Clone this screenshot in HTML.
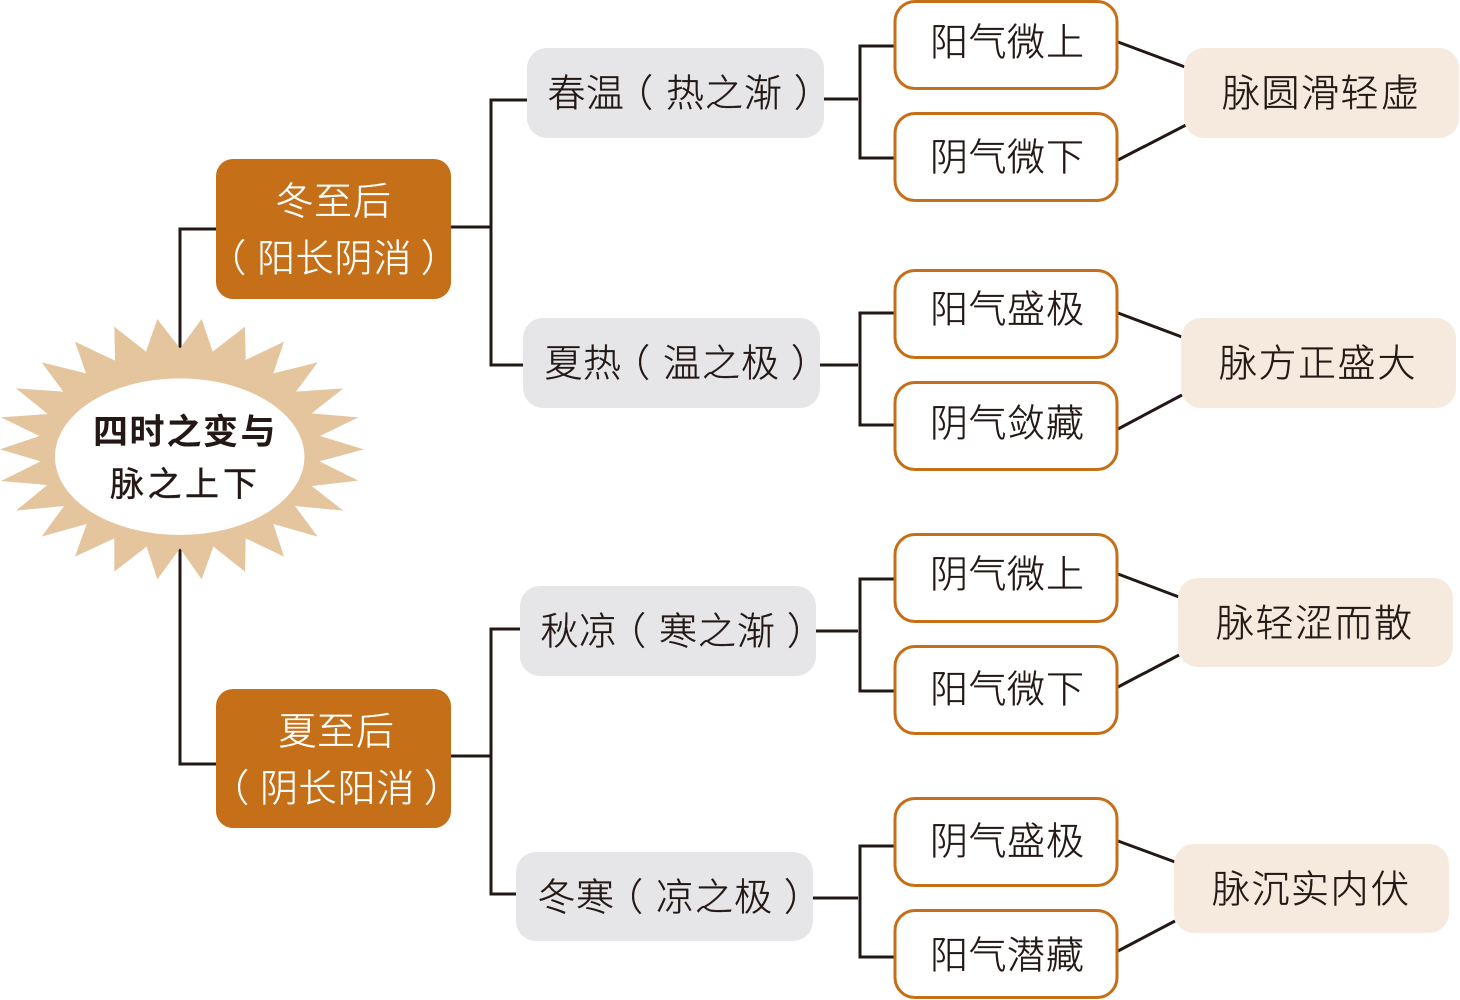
<!DOCTYPE html>
<html lang="zh">
<head>
<meta charset="utf-8">
<title>四时之变与脉之上下</title>
<style>
html,body{margin:0;padding:0;background:#fff;width:1460px;height:1000px;overflow:hidden}
svg{display:block}
text{font-family:"Liberation Sans","Noto Sans CJK SC",sans-serif;font-size:38px;fill:#231815;stroke:#231815;stroke-width:.35px;font-weight:300}
text.w{fill:#fff;stroke:#fff}
text.c{font-size:35px;font-weight:700;stroke-width:0}
text.c2{font-size:34px;font-weight:400;stroke-width:.4px}
</style>
</head>
<body>
<svg width="1460" height="1000" viewBox="0 0 1460 1000" xmlns="http://www.w3.org/2000/svg">
<g fill="none" stroke="#231815" stroke-width="3">
<path d="M180,350V229H218M180,548V764H218"/>
<path d="M450,227H491M527,100H491V365H523M450,756H491M520,629H491V894H516"/>
<path d="M824,99H858M895,46H860V158H895"/>
<path d="M820,365H858M895,313H860V425H895"/>
<path d="M816,631H858M895,579H860V691H895"/>
<path d="M813,898H858M895,846H860V957H895"/>
<path d="M1118,42L1185,67M1118,160L1186,125M1118,313L1182,337M1118,429L1182,395M1118,574L1179,597M1118,687L1179,655M1118,841L1175,862M1118,951L1175,921"/>
</g>
<g transform="translate(0,300) scale(0.33333)">
<polygon fill="#e5c59d" points="605,57 638,155 735,80 737,180 852,125 820,220 953,187 888,275 1030,265 935,340 1075,352 960,408 1092,448 958,484 1075,542 935,558 1030,632 885,618 953,710 820,672 852,770 737,715 735,815 640,740 605,838 540,745 472,838 440,740 343,815 343,715 225,770 260,672 125,710 192,618 48,632 142,555 3,543 122,484 0,448 118,408 3,352 143,342 48,265 190,275 125,187 258,220 225,125 345,182 343,80 438,155 472,57 540,145"/>
</g>
<ellipse cx="179.7" cy="456.7" rx="124.7" ry="78.3" fill="#fff"/>
<g fill="#c56f18">
<rect x="216" y="159" width="235" height="140" rx="17"/>
<rect x="216" y="689" width="235" height="139" rx="17"/>
</g>
<g fill="#e6e6e8">
<rect x="527" y="48" width="297" height="90" rx="20"/>
<rect x="523" y="318" width="297" height="90" rx="20"/>
<rect x="520" y="586" width="296" height="90" rx="20"/>
<rect x="516" y="852" width="297" height="89" rx="20"/>
</g>
<g fill="#f5eadd">
<rect x="1184" y="48" width="275" height="90" rx="20"/>
<rect x="1181" y="318" width="275" height="90" rx="20"/>
<rect x="1178" y="578" width="275" height="89" rx="20"/>
<rect x="1174" y="844" width="275" height="89" rx="20"/>
</g>
<g fill="#fff" stroke="#c56f18" stroke-width="3">
<rect x="895" y="1.5" width="222" height="87" rx="20"/>
<rect x="895" y="113.5" width="222" height="87" rx="20"/>
<rect x="895" y="270.5" width="222" height="87" rx="20"/>
<rect x="895" y="382.5" width="222" height="87" rx="20"/>
<rect x="895" y="534.5" width="222" height="87" rx="20"/>
<rect x="895" y="646.5" width="222" height="87" rx="20"/>
<rect x="895" y="798.5" width="222" height="87" rx="20"/>
<rect x="895" y="910.5" width="222" height="87" rx="20"/>
</g>
<text class="c" x="93 129.5 166.5 203 240.5" y="444">四时之变与</text>
<text class="c2" x="110 147.5 185 223" y="496">脉之上下</text>
<text class="w" x="275.5 314 353" y="214.5">冬至后</text>
<text class="w" x="208 257 295.5 334.5 373.5 421" y="271.5">（阳长阴消）</text>
<text class="w" x="278.5 317 356" y="744.5">夏至后</text>
<text class="w" x="211 260 298.5 337.5 376.5 424" y="801.5">（阴长阳消）</text>
<text x="547.5 586 615 666 705 744 794" y="106.5">春温（热之渐）</text>
<text x="544.5 583 612 663 702 741 791" y="376.5">夏热（温之极）</text>
<text x="540.5 579 608 659 698 737 787" y="644.5">秋凉（寒之渐）</text>
<text x="537.5 576 605 656 695 734 784" y="910.5">冬寒（凉之极）</text>
<text x="930 968.5 1007 1046" y="55.5">阳气微上</text>
<text x="930 968.5 1007 1046" y="170.5">阴气微下</text>
<text x="930 968.5 1007 1046" y="322.5">阳气盛极</text>
<text x="930 968.5 1007 1046" y="436.5">阴气敛藏</text>
<text x="930 968.5 1007 1046" y="587.5">阴气微上</text>
<text x="930 968.5 1007 1046" y="702.5">阳气微下</text>
<text x="930 968.5 1007 1046" y="854.5">阴气盛极</text>
<text x="930 968.5 1007 1046" y="968.5">阳气潜藏</text>
<text x="1222 1261.5 1301 1340.5 1381" y="106.5">脉圆滑轻虚</text>
<text x="1219 1258.5 1298 1337.5 1377.5" y="376.5">脉方正盛大</text>
<text x="1216 1255.5 1295 1334.5 1374" y="636.5">脉轻涩而散</text>
<text x="1212 1251.5 1291 1330.5 1371" y="902.5">脉沉实内伏</text>
</svg>
</body>
</html>
